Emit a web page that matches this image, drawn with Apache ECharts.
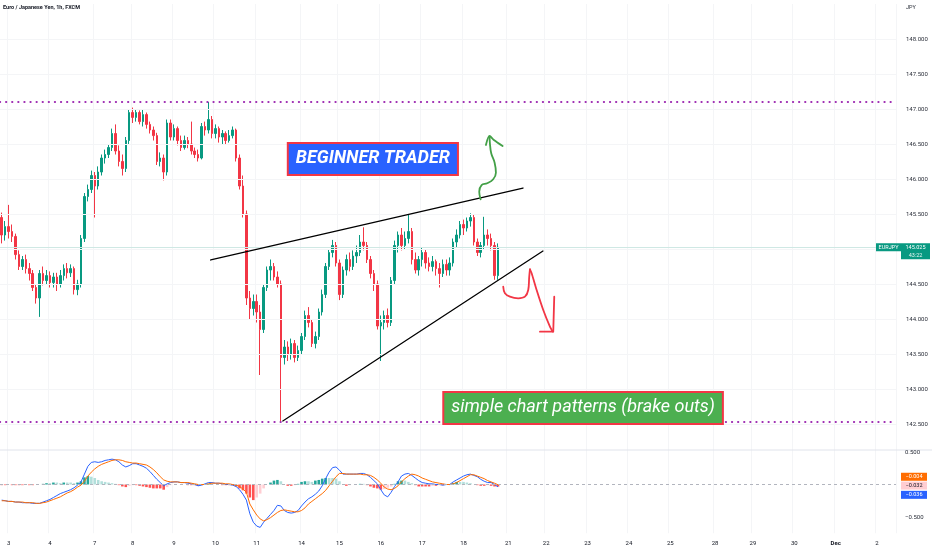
<!DOCTYPE html>
<html><head><meta charset="utf-8">
<script src="https://cdn.jsdelivr.net/npm/echarts@6/dist/echarts.min.js"></script>
<style>html,body{margin:0;padding:0;background:#fff}#c{width:932px;height:550px}</style>
</head><body><div id="c"></div>
<script>
// ---------- axis structure (2-hour slots, trading days of Nov 2022) ----------
const dayLabels = ['3','4','7','8','9','10','11','14','15','16','17','18','21','22','23','24','25','28','29','30','Dec','2'];
const dayStartSlots = [0,12,25,36,48,60,72,85,96,108,120,132,145,156,168,180,192,205,216,228,240,252];
const firstSlot = -2, lastSlot = 257;
const priceTicks = [142.5,143,143.5,144,144.5,145,145.5,146,146.5,147,147.5,148];

// ---------- EURJPY candles [open, close, low, high], slot -2 .. 142 ----------
const candles = [
[145.45,145.20,145.08,145.52],[145.20,145.32,145.12,145.40],[145.32,145.25,145.15,145.63],[145.25,145.18,145.10,145.35],
[145.18,144.92,144.85,145.22],[144.92,144.75,144.70,144.98],[144.75,144.85,144.70,144.90],[144.85,144.72,144.65,144.92],
[144.72,144.65,144.55,144.80],[144.65,144.45,144.40,144.70],[144.45,144.30,144.22,144.50],[144.30,144.65,144.03,144.70],
[144.65,144.55,144.48,144.75],[144.55,144.62,144.50,144.70],[144.62,144.52,144.45,144.68],[144.52,144.60,144.45,144.66],
[144.60,144.50,144.40,144.66],[144.50,144.62,144.45,144.70],[144.62,144.72,144.55,144.78],[144.72,144.66,144.58,144.80],
[144.66,144.72,144.60,144.78],[144.72,144.42,144.35,144.75],[144.42,144.50,144.34,144.56],[144.50,145.15,144.45,145.20],
[145.15,145.75,145.10,145.80],[145.75,145.85,145.68,145.92],[145.85,146.05,145.80,146.12],[146.05,145.90,145.45,146.10],
[145.90,146.10,145.85,146.18],[146.10,146.30,146.05,146.35],[146.30,146.35,146.22,146.42],[146.35,146.45,146.30,146.50],
[146.45,146.65,146.40,146.72],[146.65,146.40,146.35,146.78],[146.40,146.25,146.18,146.48],[146.25,146.15,146.05,146.35],
[146.15,146.55,146.10,146.60],[146.55,146.95,146.50,147.00],[146.95,146.88,146.80,147.02],[146.88,146.95,146.82,147.00],
[146.95,146.82,146.78,146.98],[146.82,146.92,146.75,147.00],[146.92,146.78,146.72,146.95],[146.78,146.70,146.65,146.82],
[146.70,146.62,146.55,146.75],[146.62,146.25,146.20,146.66],[146.25,146.30,146.18,146.38],[146.30,146.10,145.98,146.35],
[146.10,146.80,146.05,146.85],[146.80,146.60,146.55,146.85],[146.60,146.72,146.55,146.78],[146.72,146.55,146.48,146.75],
[146.55,146.45,146.40,146.62],[146.45,146.55,146.42,146.62],[146.55,146.50,146.44,146.60],[146.50,146.40,146.35,146.82],
[146.40,146.35,146.30,146.45],[146.35,146.30,146.25,146.42],[146.30,146.75,146.28,146.80],[146.75,146.70,146.62,146.82],
[146.70,146.85,146.65,147.10],[146.85,146.65,146.58,146.90],[146.65,146.72,146.58,146.78],[146.72,146.60,146.52,146.75],
[146.60,146.65,146.50,146.70],[146.65,146.55,146.50,146.68],[146.55,146.62,146.52,146.70],[146.62,146.70,146.58,146.75],
[146.70,146.30,146.25,146.72],[146.30,145.90,145.85,146.35],[145.90,145.50,145.45,146.05],[145.50,144.30,144.20,145.55],
[144.30,144.15,144.00,144.40],[144.15,144.25,144.05,144.35],[144.25,144.10,143.95,144.35],[144.10,143.85,143.20,144.20],
[143.85,144.45,143.80,144.50],[144.45,144.70,144.40,144.75],[144.70,144.75,144.55,144.85],[144.75,144.60,144.55,144.80],
[144.60,144.50,144.45,144.68],[144.50,143.45,142.54,144.55],[143.45,143.60,143.35,143.70],[143.60,143.50,143.40,143.68],
[143.50,143.65,143.42,143.72],[143.65,143.45,143.38,143.70],[143.45,143.55,143.40,143.62],[143.55,143.75,143.50,143.80],
[143.75,144.05,143.70,144.12],[144.05,143.95,143.88,144.17],[143.95,143.65,143.60,144.00],[143.65,143.75,143.58,143.82],
[143.75,144.10,143.70,144.15],[144.10,144.35,144.05,144.42],[144.35,144.75,144.30,144.80],[144.75,144.95,144.70,145.00],
[144.95,145.05,144.88,145.13],[145.05,144.80,144.75,145.10],[144.80,144.35,144.27,144.85],[144.35,144.70,144.30,144.75],
[144.70,144.85,144.62,144.92],[144.85,144.75,144.68,144.95],[144.75,144.90,144.70,144.98],[144.90,144.95,144.80,145.05],
[144.95,145.10,144.90,145.20],[145.10,145.05,144.98,145.31],[145.05,144.85,144.80,145.10],[144.85,144.65,144.58,144.90],
[144.65,144.50,144.40,144.70],[144.50,143.90,143.85,144.55],[143.90,143.95,143.40,144.05],[143.95,144.05,143.85,144.12],
[144.05,143.95,143.88,144.15],[143.95,144.55,143.90,144.60],[144.55,145.05,144.50,145.12],[145.05,145.20,144.95,145.25],
[145.20,145.05,144.98,145.30],[145.05,145.15,145.00,145.25],[145.15,145.25,145.08,145.49],[145.25,144.85,144.78,145.30],
[144.85,144.70,144.65,144.95],[144.70,144.85,144.62,144.90],[144.85,144.95,144.75,145.02],[144.95,144.80,144.72,145.00],
[144.80,144.75,144.68,144.88],[144.75,144.82,144.68,144.90],[144.82,144.72,144.62,144.85],[144.72,144.65,144.45,144.80],
[144.65,144.78,144.60,144.85],[144.78,144.70,144.62,144.85],[144.70,144.80,144.62,144.88],[144.80,145.10,144.75,145.15],
[145.10,145.20,145.02,145.28],[145.20,145.35,145.15,145.40],[145.35,145.30,145.20,145.42],[145.30,145.40,145.25,145.45],
[145.40,145.45,145.32,145.51],[145.45,145.10,145.05,145.50],[145.10,144.95,144.90,145.15],[144.95,145.05,144.88,145.10],
[145.05,145.20,145.00,145.46],[145.20,145.15,145.05,145.28],[145.15,145.05,144.98,145.22],[145.05,144.62,144.56,145.10],
[144.62,145.025,144.56,145.08]
];

// ---------- MACD (12,26,9), slot -2 .. 142 ----------
const macdLine = [
-0.24,-0.25,-0.26,-0.26,-0.27,-0.27,-0.28,-0.28,-0.28,-0.29,-0.29,-0.29,
-0.27,-0.25,-0.23,-0.20,-0.17,-0.14,-0.12,-0.10,-0.08,-0.05,
-0.01,0.04,0.16,0.28,0.34,0.35,0.34,0.35,0.37,0.38,
0.39,0.38,0.35,0.30,0.27,0.29,0.32,0.32,0.30,0.28,
0.25,0.20,0.14,0.08,0.03,-0.02,0.01,0.03,0.04,0.04,
0.03,0.03,0.02,0.01,0.00,-0.02,-0.01,0.01,0.03,0.03,
0.02,0.02,0.01,0.00,0.00,-0.01,-0.03,-0.08,-0.15,-0.24,
-0.45,-0.58,-0.64,-0.66,-0.58,-0.52,-0.46,-0.40,-0.32,-0.33,
-0.40,-0.43,-0.44,-0.43,-0.40,-0.33,-0.27,-0.22,-0.19,-0.15,
-0.10,-0.02,0.09,0.19,0.26,0.27,0.22,0.16,0.16,0.16,
0.16,0.16,0.17,0.17,0.15,0.11,0.06,0.01,-0.08,-0.16,
-0.19,-0.12,-0.03,0.04,0.13,0.16,0.17,0.14,0.10,0.06,
0.03,0.02,0.01,0.01,0.00,0.00,-0.01,0.00,0.00,0.04,
0.07,0.10,0.13,0.15,0.16,0.14,0.12,0.08,0.05,0.03,
0.03,0.00,-0.036
];
const signalLine = [
-0.25,-0.25,-0.26,-0.26,-0.27,-0.27,-0.27,-0.28,-0.28,-0.28,-0.29,-0.29,
-0.28,-0.27,-0.25,-0.23,-0.21,-0.19,-0.16,-0.13,-0.11,-0.08,
-0.04,-0.01,0.05,0.13,0.19,0.24,0.28,0.31,0.33,0.35,
0.37,0.38,0.38,0.37,0.35,0.34,0.33,0.33,0.32,0.31,
0.30,0.27,0.23,0.18,0.12,0.07,0.05,0.04,0.04,0.04,
0.03,0.03,0.03,0.02,0.01,0.00,0.00,0.00,0.01,0.02,
0.02,0.02,0.02,0.01,0.01,0.00,-0.01,-0.03,-0.07,-0.12,
-0.30,-0.39,-0.47,-0.53,-0.56,-0.54,-0.51,-0.47,-0.43,-0.40,
-0.39,-0.40,-0.41,-0.42,-0.42,-0.40,-0.36,-0.30,-0.26,-0.22,
-0.18,-0.14,-0.09,-0.02,0.05,0.12,0.17,0.17,0.16,0.16,
0.16,0.16,0.16,0.15,0.15,0.14,0.11,0.07,0.02,-0.04,
-0.07,-0.08,-0.06,-0.02,0.04,0.09,0.13,0.16,0.15,0.13,
0.10,0.08,0.06,0.04,0.03,0.02,0.01,0.00,0.00,0.01,
0.03,0.06,0.09,0.12,0.15,0.15,0.13,0.11,0.09,0.06,
0.04,0.02,-0.004
];
const histValues = [
-0.01,-0.01,0.00,-0.01,-0.01,-0.01,-0.01,0.00,-0.01,-0.01,0.00,0.00,
0.01,0.02,0.02,0.03,0.03,0.02,0.03,0.03,0.03,0.02,
0.03,0.05,0.11,0.13,0.12,0.10,0.07,0.05,0.04,0.03,
0.02,0.01,-0.01,-0.03,-0.04,-0.02,-0.01,-0.01,-0.02,-0.03,
-0.04,-0.05,-0.06,-0.06,-0.06,-0.08,-0.04,-0.01,0.00,0.00,
0.00,0.00,-0.01,-0.01,-0.01,-0.02,-0.01,0.00,0.01,0.01,
0.00,0.00,-0.01,-0.01,-0.01,-0.01,-0.03,-0.06,-0.09,-0.14,
-0.20,-0.24,-0.20,-0.14,-0.06,0.00,0.03,0.06,0.07,0.05,
0.00,-0.02,-0.02,-0.01,0.01,0.04,0.05,0.05,0.04,0.06,
0.07,0.09,0.10,0.10,0.10,0.09,0.05,0.00,-0.02,-0.01,
0.00,0.00,0.01,0.01,-0.01,-0.03,-0.05,-0.06,-0.08,-0.07,
-0.05,-0.03,0.01,0.05,0.06,0.06,0.04,0.02,-0.01,-0.03,
-0.03,-0.03,-0.03,-0.02,-0.02,-0.01,-0.01,0.00,0.00,0.02,
0.04,0.04,0.04,0.03,0.02,0.00,-0.01,-0.02,-0.02,-0.01,
-0.02,-0.03,-0.032
];
const lastPrice = 145.025, lastMacd = -0.036, lastSignal = -0.004, lastHist = -0.032;

// ---------- drawings (slot, price) ----------
const resistanceLevel = 147.114, supportLevel = 142.53;
const upperTrend = [[58.65,144.843],[149.25,145.871]];
const lowerTrend = [[79.56,142.543],[155.05,144.971]];
const greenArrowShaft = [[136.96,145.710],[136.56,145.819],[137.25,145.914],[138.88,145.939],[140.62,145.996],[141.40,146.090],[141.03,146.233],[140.04,146.367],[139.66,146.510],[139.57,146.604]];
const greenArrowHead = [[138.50,146.486],[139.57,146.614],[140.82,146.557],[143.35,146.471]];
const redArrowHook = [[143.53,144.461],[144.02,144.367],[145.47,144.319],[147.88,144.296],[149.83,144.319],[150.78,144.414],[151.07,144.604],[151.28,144.710]];
const redArrowShaft = [[151.28,144.710],[151.77,144.653],[153.22,144.414],[155.14,144.129],[157.08,143.890],[157.87,143.819]];
const redArrowHead = [[158.33,144.319],[158.04,143.819],[154.18,143.819]];
const beginnerNote = {pos:[105.7,146.286], text:'BEGINNER TRADER'};
const patternNote = {pos:[166.7,142.729], text:'simple chart patterns (brake outs)'};

// ---------- build ----------
const categories = [];
for (let k = firstSlot; k <= lastSlot; k++) categories.push('s' + k);
const labelAt = {};
dayStartSlots.forEach((s, i) => { labelAt[s - firstSlot] = dayLabels[i]; });

const FONT = 'Roboto, "Noto Sans", sans-serif';
const chart = echarts.init(document.getElementById('c'), null, {renderer: 'canvas'});

const gridMain = {left: 0, top: 4, width: 896, height: 455};
const gridMacd = {left: 0, top: 452, width: 896, height: 81.25};

const histColor = (p) => {
  const i = p.dataIndex, v = histValues[i], prev = i > 0 ? histValues[i - 1] : v;
  if (v >= 0) return prev < v ? '#26a69a' : '#b2dfdb';
  return prev < v ? '#ffcdd2' : '#ff5252';
};

const noteLabel = (bg, bold, padding) => ({
  show: true, position: 'inside', color: '#ffffff', fontSize: 18, fontFamily: FONT,
  fontStyle: 'italic', fontWeight: bold ? 'bold' : 'normal', opacity: 1,
  backgroundColor: bg, borderColor: '#f23645', borderWidth: 2, padding: padding, lineHeight: 20
});

const lineSeries = (data, color, width, smooth) => ({
  type: 'line', xAxisIndex: 2, yAxisIndex: 0, data: data, symbol: 'none', silent: true,
  smooth: smooth, lineStyle: {color: color, width: width, cap: 'round', join: 'round'}, z: 5, animation: false
});

const option = {
  animation: false,
  backgroundColor: '#ffffff',
  grid: [gridMain, gridMacd],
  xAxis: [
    {type: 'category', gridIndex: 0, data: categories, boundaryGap: true,
     axisLine: {show: false}, axisTick: {show: false}, axisLabel: {show: false},
     splitLine: {show: true, interval: (i) => labelAt[i] !== undefined, lineStyle: {color: '#f4f5f7', width: 1}}},
    {type: 'category', gridIndex: 1, data: categories, boundaryGap: true,
     axisLine: {show: false}, axisTick: {show: false},
     splitLine: {show: true, interval: (i) => labelAt[i] !== undefined, lineStyle: {color: '#f4f5f7', width: 1}},
     axisLabel: {show: true, margin: 7, fontSize: 6, color: '#131722', fontFamily: FONT,
       interval: (i) => labelAt[i] !== undefined,
       formatter: (v, i) => { const t = labelAt[i]; return t === 'Dec' ? '{b|Dec}' : (t || ''); },
       rich: {b: {fontSize: 6, fontWeight: 'bold', color: '#131722', fontFamily: FONT}}}},
    {type: 'value', gridIndex: 0, min: firstSlot - 0.5, max: lastSlot + 0.5, show: false}
  ],
  yAxis: [
    {type: 'value', gridIndex: 0, position: 'right', min: 142, max: 148.5, interval: 0.5, scale: true,
     axisLine: {show: false}, axisTick: {show: false}, splitLine: {show: false},
     axisLabel: {margin: 10, fontSize: 6, color: '#2a2e39', fontFamily: FONT,
       formatter: (v) => (v < 142.25 || v > 148.25) ? '' : v.toFixed(3)}},
    {type: 'value', gridIndex: 1, position: 'right', min: -0.75, max: 0.5, interval: 0.25,
     axisLine: {show: false}, axisTick: {show: false}, splitLine: {show: false},
     axisLabel: {margin: 9, fontSize: 6, color: '#2a2e39', fontFamily: FONT,
       formatter: (v) => Math.abs(Math.abs(v) - 0.5) < 1e-6 ? (v < 0 ? '\u2212' : '') + '0.500' : ''}}
  ],
  series: [
    {type: 'candlestick', xAxisIndex: 0, yAxisIndex: 0, data: candles, barWidth: 2,
     itemStyle: {color: '#089981', color0: '#f23645', borderColor: '#089981', borderColor0: '#f23645', borderWidth: 1},
     markLine: {silent: true, symbol: ['none', 'none'], label: {show: false}, animation: false,
       data: priceTicks.map(v => ({yAxis: v, lineStyle: {color: '#f4f5f7', width: 1, type: 'solid'}}))
         .concat([
           {yAxis: lastPrice, lineStyle: {color: '#cfe8e4', width: 1, type: 'solid'}},
           {yAxis: resistanceLevel, lineStyle: {color: '#9c27b0', width: 2.2, type: [0.1, 6], cap: 'round'}},
           {yAxis: supportLevel, lineStyle: {color: '#9c27b0', width: 2.2, type: [0.1, 6], cap: 'round'}}
         ])}},
    lineSeries(upperTrend, '#000000', 1.3, false),
    lineSeries(lowerTrend, '#000000', 1.3, false),
    lineSeries(greenArrowShaft, '#43a047', 1.8, 0.4),
    lineSeries(greenArrowHead, '#43a047', 1.8, 0.3),
    lineSeries(redArrowHook, '#f23645', 1.8, 0.4),
    lineSeries(redArrowShaft, '#f23645', 1.8, 0.2),
    lineSeries(redArrowHead, '#f23645', 1.8, false),
    {type: 'scatter', xAxisIndex: 2, yAxisIndex: 0, silent: true, z: 10, symbolSize: 1,
     itemStyle: {color: 'rgba(0,0,0,0)', opacity: 1}, data: [beginnerNote.pos],
     label: Object.assign(noteLabel('#2962ff', true, [5, 7, 5, 7]), {formatter: beginnerNote.text})},
    {type: 'scatter', xAxisIndex: 2, yAxisIndex: 0, silent: true, z: 10, symbolSize: 1,
     itemStyle: {color: 'rgba(0,0,0,0)', opacity: 1}, data: [patternNote.pos],
     label: Object.assign(noteLabel('#4caf50', false, [5, 7, 5, 7]), {formatter: patternNote.text})},
    {type: 'bar', xAxisIndex: 1, yAxisIndex: 1, data: histValues, barWidth: '75%',
     itemStyle: {color: histColor},
     markLine: {silent: true, symbol: ['none', 'none'], label: {show: false}, animation: false,
       data: [{yAxis: 0, lineStyle: {color: '#b2b5be', width: 1, type: [3, 3]}}]}},
    {type: 'line', xAxisIndex: 1, yAxisIndex: 1, data: macdLine, symbol: 'none', silent: true,
     lineStyle: {color: '#2962ff', width: 1}},
    {type: 'line', xAxisIndex: 1, yAxisIndex: 1, data: signalLine, symbol: 'none', silent: true,
     lineStyle: {color: '#ff6d00', width: 1}}
  ]
};
chart.setOption(option);

// ---------- price-scale tags and titles ----------
const yp = chart.convertToPixel({yAxisIndex: 0}, lastPrice);
const y0s = chart.convertToPixel({yAxisIndex: 1}, lastSignal);
const y0h = chart.convertToPixel({yAxisIndex: 1}, lastHist);
const y0m = chart.convertToPixel({yAxisIndex: 1}, lastMacd);
const fmt = (v) => (v < 0 ? '\u2212' : '') + Math.abs(v).toFixed(3);
const tag = (x, cy, w, h, fill, text, color) => ([
  {type: 'rect', shape: {x: x, y: cy - h / 2, width: w, height: h}, style: {fill: fill}, silent: true, z: 100},
  {type: 'text', x: x + w / 2, y: cy, silent: true, z: 101,
   style: {text: text, fill: color, fontSize: 5.5, fontFamily: FONT, align: 'center', verticalAlign: 'middle'}}
]);
const graphics = [
  {type: 'line', shape: {x1: 0, y1: 450, x2: 932, y2: 450}, style: {stroke: '#e0e3eb', lineWidth: 1}, silent: true},
  {type: 'text', x: 3, y: 5, silent: true,
   style: {text: 'Euro / Japanese Yen, 1h, FXCM', fill: '#131722', fontSize: 5.5, fontWeight: 'bold', fontFamily: FONT}},
  {type: 'text', x: 906, y: 5, silent: true,
   style: {text: 'JPY', fill: '#2a2e39', fontSize: 5.5, fontFamily: FONT}},
  {type: 'rect', shape: {x: 901, y: yp - 4, width: 29, height: 16}, style: {fill: '#089981'}, silent: true, z: 100},
  {type: 'text', x: 915.5, y: yp, silent: true, z: 101,
   style: {text: lastPrice.toFixed(3), fill: '#fff', fontSize: 5.5, fontFamily: FONT, align: 'center', verticalAlign: 'middle'}},
  {type: 'text', x: 915.5, y: yp + 8, silent: true, z: 101,
   style: {text: '43:22', fill: '#e8f5f3', fontSize: 5.5, fontFamily: FONT, align: 'center', verticalAlign: 'middle'}}
].concat(
  tag(876, yp, 25, 8, '#089981', 'EURJPY', '#fff'),
  tag(901, y0s - 8, 26, 8, '#ff6d00', fmt(lastSignal), '#fff'),
  tag(901, y0h - 1, 26, 8, '#ffcdd2', fmt(lastHist), '#131722'),
  tag(901, y0m + 8, 26, 8, '#2962ff', fmt(lastMacd), '#fff')
);
chart.setOption({graphic: graphics});
</script>
</body></html>
